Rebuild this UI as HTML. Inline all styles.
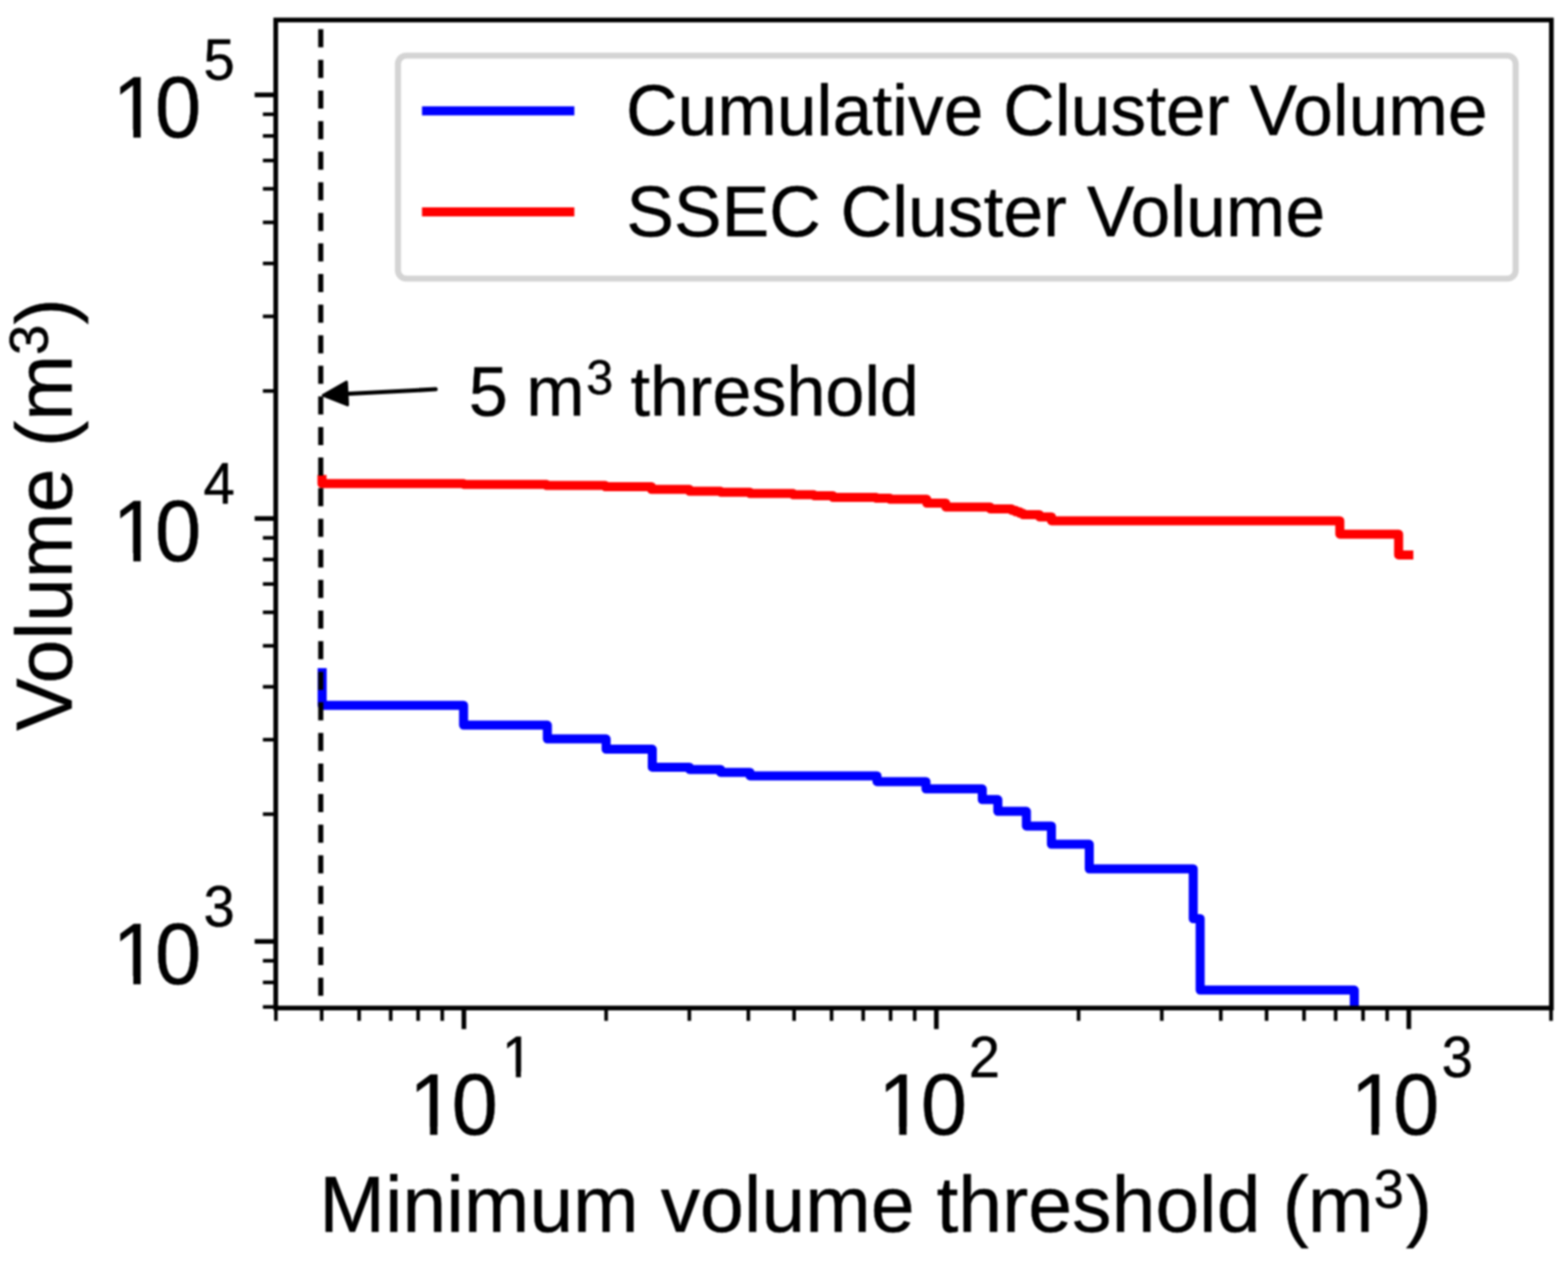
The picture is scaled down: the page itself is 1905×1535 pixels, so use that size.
<!DOCTYPE html>
<html lang="en">
<head>
<meta charset="utf-8">
<title>Cluster volume vs minimum volume threshold</title>
<style>
html,body{margin:0;padding:0;background:#fff;}
body{width:1905px;height:1535px;overflow:hidden;}
svg{display:block;filter:blur(0.9px);}
text{white-space:pre;}
</style>
</head>
<body>
<svg width="1905" height="1535" viewBox="0 0 1905 1535" role="img" aria-label="Log-log plot of cluster volume against minimum volume threshold">
<rect width="1905" height="1535" fill="#fff"/>
<defs><clipPath id="ax"><rect x="335.0" y="24.3" width="1549.8" height="1200.8"/></clipPath><clipPath id="tl0"><rect x="-20.00" y="-121.20" width="77.62" height="112.06"/><rect x="28.95" y="-30.30" width="9.02" height="33.30"/><rect x="57.62" y="-121.20" width="56.02" height="161.60"/><rect x="113.64" y="-222.20" width="121.20" height="303.00"/></clipPath><clipPath id="tl1"><rect x="-20.00" y="-121.20" width="77.62" height="112.06"/><rect x="28.95" y="-30.30" width="9.02" height="33.30"/><rect x="57.62" y="-121.20" width="56.02" height="161.60"/><rect x="113.64" y="-222.20" width="121.20" height="303.00"/></clipPath><clipPath id="tl2"><rect x="-20.00" y="-121.20" width="77.62" height="112.06"/><rect x="28.95" y="-30.30" width="9.02" height="33.30"/><rect x="57.62" y="-121.20" width="56.02" height="161.60"/><rect x="113.64" y="-222.20" width="121.20" height="303.00"/></clipPath><clipPath id="tl3"><rect x="-20.00" y="-121.20" width="77.62" height="112.06"/><rect x="28.95" y="-30.30" width="9.02" height="33.30"/><rect x="57.62" y="-121.20" width="56.02" height="161.60"/><rect x="113.64" y="-222.20" width="121.20" height="148.58"/><rect x="133.24" y="-87.38" width="6.12" height="23.45"/></clipPath><clipPath id="tl4"><rect x="-20.00" y="-121.20" width="77.62" height="112.06"/><rect x="28.95" y="-30.30" width="9.02" height="33.30"/><rect x="57.62" y="-121.20" width="55.32" height="161.60"/><rect x="112.94" y="-222.20" width="121.20" height="303.00"/></clipPath><clipPath id="tl5"><rect x="-20.00" y="-121.20" width="77.62" height="112.06"/><rect x="28.95" y="-30.30" width="9.02" height="33.30"/><rect x="57.62" y="-121.20" width="56.02" height="161.60"/><rect x="113.64" y="-222.20" width="121.20" height="303.00"/></clipPath></defs>
<!-- data series + threshold line (clipped to the axes) -->
<g clip-path="url(#ax)" fill="none" stroke-linejoin="round" stroke-linecap="square">
<polyline points="391.4,817.4 391.4,857.2 563.2,857.2 563.2,881.3 665.0,881.3 665.0,898.1 736.4,898.1 736.4,910.6 792.5,910.6 792.5,932.4 837.7,932.4 837.7,935.2 875.5,935.2 875.5,938.7 911.2,938.7 911.2,942.9 1065.5,942.9 1065.5,949.9 1125.0,949.9 1125.0,958.8 1193.4,958.8 1193.4,971.8 1212.3,971.8 1212.3,986.1 1247.0,986.1 1247.0,1003.9 1277.4,1003.9 1277.4,1026.1 1323.4,1026.1 1323.4,1056.0 1449.7,1056.0 1449.7,1116.5 1458.1,1116.5 1458.1,1203.3 1645.4,1203.3 1645.4,1250.0" stroke="#0000ff" stroke-width="11.0"/>
<polyline points="391.2,582.8 391.2,587.8 563.4,587.8 563.4,588.7 664.0,588.7 664.0,590.0 735.4,590.0 735.4,591.5 791.5,591.5 791.5,594.8 837.7,594.8 837.7,597.1 875.5,597.1 875.5,598.2 911.2,598.2 911.2,599.8 963.7,599.8 963.7,601.3 988.9,601.3 988.9,602.4 1012.0,602.4 1012.0,604.5 1064.5,604.5 1064.5,605.5 1081.3,605.5 1081.3,606.8 1126.0,606.8 1126.0,611.5 1149.0,611.5 1149.0,616.2 1203.0,616.2 1203.0,618.4 1229.0,618.4 1229.0,620.2 1234.0,620.2 1234.0,622.0 1239.0,622.0 1239.0,623.8 1243.0,623.8 1243.0,625.5 1262.8,625.5 1262.8,628.2 1277.5,628.2 1277.5,632.9 1627.8,632.9 1627.8,649.2 1699.2,649.2 1699.2,674.4 1711.6,674.4" stroke="#ff0000" stroke-width="11.0"/>
<line x1="389.7" y1="35.6" x2="389.7" y2="1211" stroke="#000" stroke-width="6.2" stroke-linecap="butt" stroke-dasharray="22 15.18"/>
</g>
<!-- annotation arrow -->
<g stroke="#000" fill="#000" stroke-linejoin="round" stroke-linecap="round">
<line x1="529.3" y1="473.1" x2="415" y2="479.1" stroke-width="5.0"/>
<polygon points="392.6,480.4 421.0,464.3 422.4,492.2" stroke-width="3.4"/>
</g>
<!-- axis ticks -->
<g stroke="#000" fill="none" stroke-linecap="butt">
<line x1="563.6" y1="1225.1" x2="563.6" y2="1250.7" stroke-width="5.7"/>
<line x1="1137.6" y1="1225.1" x2="1137.6" y2="1250.7" stroke-width="5.7"/>
<line x1="1711.6" y1="1225.1" x2="1711.6" y2="1250.7" stroke-width="5.7"/>
<line x1="335.2" y1="1225.1" x2="335.2" y2="1240.7" stroke-width="4.4"/>
<line x1="390.8" y1="1225.1" x2="390.8" y2="1240.7" stroke-width="4.4"/>
<line x1="436.3" y1="1225.1" x2="436.3" y2="1240.7" stroke-width="4.4"/>
<line x1="474.7" y1="1225.1" x2="474.7" y2="1240.7" stroke-width="4.4"/>
<line x1="508.0" y1="1225.1" x2="508.0" y2="1240.7" stroke-width="4.4"/>
<line x1="537.3" y1="1225.1" x2="537.3" y2="1240.7" stroke-width="4.4"/>
<line x1="736.4" y1="1225.1" x2="736.4" y2="1240.7" stroke-width="4.4"/>
<line x1="837.5" y1="1225.1" x2="837.5" y2="1240.7" stroke-width="4.4"/>
<line x1="909.2" y1="1225.1" x2="909.2" y2="1240.7" stroke-width="4.4"/>
<line x1="964.8" y1="1225.1" x2="964.8" y2="1240.7" stroke-width="4.4"/>
<line x1="1010.3" y1="1225.1" x2="1010.3" y2="1240.7" stroke-width="4.4"/>
<line x1="1048.7" y1="1225.1" x2="1048.7" y2="1240.7" stroke-width="4.4"/>
<line x1="1082.0" y1="1225.1" x2="1082.0" y2="1240.7" stroke-width="4.4"/>
<line x1="1111.3" y1="1225.1" x2="1111.3" y2="1240.7" stroke-width="4.4"/>
<line x1="1310.4" y1="1225.1" x2="1310.4" y2="1240.7" stroke-width="4.4"/>
<line x1="1411.5" y1="1225.1" x2="1411.5" y2="1240.7" stroke-width="4.4"/>
<line x1="1483.2" y1="1225.1" x2="1483.2" y2="1240.7" stroke-width="4.4"/>
<line x1="1538.8" y1="1225.1" x2="1538.8" y2="1240.7" stroke-width="4.4"/>
<line x1="1584.3" y1="1225.1" x2="1584.3" y2="1240.7" stroke-width="4.4"/>
<line x1="1622.7" y1="1225.1" x2="1622.7" y2="1240.7" stroke-width="4.4"/>
<line x1="1656.0" y1="1225.1" x2="1656.0" y2="1240.7" stroke-width="4.4"/>
<line x1="1685.3" y1="1225.1" x2="1685.3" y2="1240.7" stroke-width="4.4"/>
<line x1="1884.4" y1="1225.1" x2="1884.4" y2="1240.7" stroke-width="4.4"/>
<line x1="335.0" y1="1144.2" x2="309.4" y2="1144.2" stroke-width="5.7"/>
<line x1="335.0" y1="630.2" x2="309.4" y2="630.2" stroke-width="5.7"/>
<line x1="335.0" y1="115.3" x2="309.4" y2="115.3" stroke-width="5.7"/>
<line x1="335.0" y1="1223.8" x2="319.4" y2="1223.8" stroke-width="4.4"/>
<line x1="335.0" y1="1194.0" x2="319.4" y2="1194.0" stroke-width="4.4"/>
<line x1="335.0" y1="1167.7" x2="319.4" y2="1167.7" stroke-width="4.4"/>
<line x1="335.0" y1="989.5" x2="319.4" y2="989.5" stroke-width="4.4"/>
<line x1="335.0" y1="899.0" x2="319.4" y2="899.0" stroke-width="4.4"/>
<line x1="335.0" y1="834.7" x2="319.4" y2="834.7" stroke-width="4.4"/>
<line x1="335.0" y1="784.9" x2="319.4" y2="784.9" stroke-width="4.4"/>
<line x1="335.0" y1="744.2" x2="319.4" y2="744.2" stroke-width="4.4"/>
<line x1="335.0" y1="709.8" x2="319.4" y2="709.8" stroke-width="4.4"/>
<line x1="335.0" y1="680.0" x2="319.4" y2="680.0" stroke-width="4.4"/>
<line x1="335.0" y1="653.7" x2="319.4" y2="653.7" stroke-width="4.4"/>
<line x1="335.0" y1="475.2" x2="319.4" y2="475.2" stroke-width="4.4"/>
<line x1="335.0" y1="384.5" x2="319.4" y2="384.5" stroke-width="4.4"/>
<line x1="335.0" y1="320.2" x2="319.4" y2="320.2" stroke-width="4.4"/>
<line x1="335.0" y1="270.3" x2="319.4" y2="270.3" stroke-width="4.4"/>
<line x1="335.0" y1="229.5" x2="319.4" y2="229.5" stroke-width="4.4"/>
<line x1="335.0" y1="195.1" x2="319.4" y2="195.1" stroke-width="4.4"/>
<line x1="335.0" y1="165.2" x2="319.4" y2="165.2" stroke-width="4.4"/>
<line x1="335.0" y1="138.9" x2="319.4" y2="138.9" stroke-width="4.4"/>
</g>
<!-- axes frame -->
<rect x="335.0" y="24.3" width="1549.8" height="1200.8" fill="none" stroke="#000" stroke-width="5.7" stroke-linejoin="miter"/>
<!-- legend -->
<rect x="483.5" y="67.6" width="1357.9" height="271.0" rx="10" ry="10" fill="#fff" stroke="#d4d4d4" stroke-width="7.4"/>
<line x1="518.2" y1="134.8" x2="692.3" y2="134.8" stroke="#0000ff" stroke-width="11.0" stroke-linecap="square"/>
<line x1="518.2" y1="257.4" x2="692.3" y2="257.4" stroke="#ff0000" stroke-width="11.0" stroke-linecap="square"/>
<!-- text: tick labels, axis labels, legend entries, annotation -->
<g font-family='"Liberation Sans", sans-serif' fill="#000" stroke="#000" stroke-width="0.5" stroke-linejoin="round">
<text transform="translate(133.00 166.90) scale(1 1.04)" font-size="101.0" clip-path="url(#tl0)"><tspan x="3.6 55.17">10</tspan><tspan x="114.14" y="-66.92" font-size="68.2">5</tspan></text>
<text transform="translate(133.00 681.80) scale(1 1.04)" font-size="101.0" clip-path="url(#tl1)"><tspan x="3.6 55.17">10</tspan><tspan x="114.14" y="-66.92" font-size="68.2">4</tspan></text>
<text transform="translate(133.00 1195.80) scale(1 1.04)" font-size="101.0" clip-path="url(#tl2)"><tspan x="3.6 55.17">10</tspan><tspan x="114.14" y="-66.92" font-size="68.2">3</tspan></text>
<text transform="translate(493.50 1379.00) scale(1 1.04)" font-size="101.0" clip-path="url(#tl3)"><tspan x="3.6 55.17">10</tspan><tspan x="116.14" y="-66.92" font-size="68.2">1</tspan></text>
<text transform="translate(1063.50 1379.00) scale(1 1.04)" font-size="101.0" clip-path="url(#tl4)"><tspan x="3.6 55.17">10</tspan><tspan x="113.44" y="-66.92" font-size="68.2">2</tspan></text>
<text transform="translate(1637.30 1379.00) scale(1 1.04)" font-size="101.0" clip-path="url(#tl5)"><tspan x="3.6 55.17">10</tspan><tspan x="114.14" y="-66.92" font-size="68.2">3</tspan></text>
<text x="388.0" y="1497.4" font-size="95.7">Minimum volume threshold <tspan x="1558.27">(</tspan><tspan x="1589.05">m</tspan><tspan x="1669.08" dy="-29.19" font-size="66.0">3</tspan><tspan x="1708.07" dy="29.19">)</tspan></text>
<text transform="translate(87.0 888.2) rotate(-90)" font-size="96.0"><tspan x="0" y="0"><tspan dx="0 -1.3">Volume </tspan><tspan x="344.95">(</tspan><tspan x="376.63">m</tspan><tspan x="456.78" dy="-29.28" font-size="66.2">3</tspan><tspan x="493.58" dy="29.28">)</tspan></tspan></text>
<text x="760.59" y="163.8" font-size="86.8">Cumulative Cluster Volume</text>
<text x="760.89" y="286.9" font-size="86.8">SSEC Cluster Volume</text>
<text x="569.59" y="505.0" font-size="85.2">5 <tspan x="639.24">m</tspan><tspan x="712.16" dy="-26.41" font-size="58.8">3</tspan><tspan x="742.34" dy="26.41"> threshold</tspan></text>
</g>
</svg>
</body>
</html>
